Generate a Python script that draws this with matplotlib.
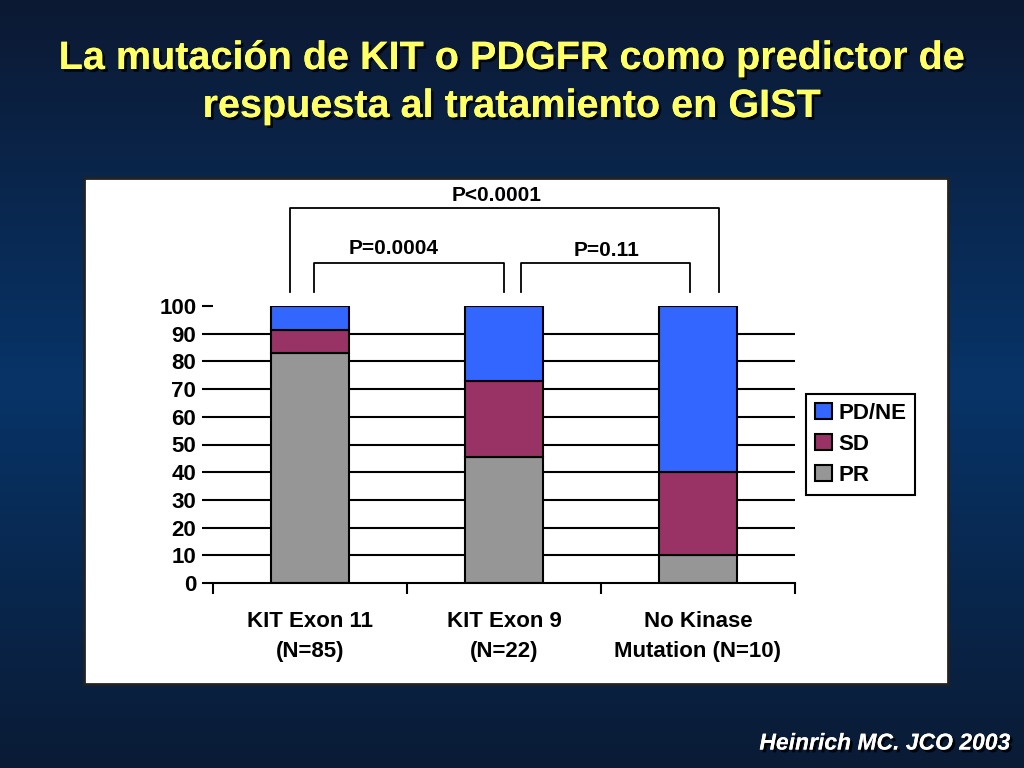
import numpy as np
import matplotlib
matplotlib.use("Agg")
import matplotlib.pyplot as plt
import matplotlib.patheffects as pe
from matplotlib.patches import Rectangle
from matplotlib.colors import LinearSegmentedColormap

# ---------------- data ----------------
categories = ["KIT Exon 11\n(N=85)", "KIT Exon 9\n(N=22)", "No Kinase\nMutation (N=10)"]
pr = [83.0, 45.5, 10.0]
sd = [8.5, 27.3, 30.0]
pd_ne = [8.5, 27.2, 60.0]
series_names = ["PD/NE", "SD", "PR"]
colors = {"PR": "#969696", "SD": "#993366", "PD/NE": "#3366FF"}
yticks = list(range(0, 101, 10))

p_labels = ["P<0.0001", "P=0.0004", "P=0.11"]

title1 = "La mutación de KIT o PDGFR como predictor de"
title2 = "respuesta al tratamiento en GIST"
citation = "Heinrich MC. JCO 2003"

narrow = ["Liberation Sans Narrow", "Liberation Sans", "DejaVu Sans"]

# ---------------- figure ----------------
fig = plt.figure(figsize=(10.24, 7.68), dpi=100)

# background gradient
bg = fig.add_axes([0, 0, 1, 1], zorder=-10)
cmap = LinearSegmentedColormap.from_list(
    "bg", [(0.0, "#0c1933"), (0.5, "#073468"), (1.0, "#0a1b35")])
grad = np.linspace(0, 1, 256).reshape(-1, 1)
bg.imshow(grad, aspect="auto", cmap=cmap, extent=[0, 1, 0, 1], origin="upper")
bg.set_axis_off()

# white chart panel
fig.patches.append(Rectangle((84 / 1024, 1 - 684 / 768), 864 / 1024, 506 / 768,
                             transform=fig.transFigure, facecolor="white",
                             edgecolor="#222222", linewidth=2, zorder=-5))

# titles
shadow = [pe.withSimplePatchShadow(offset=(2, -2), shadow_rgbFace="black", alpha=0.8), pe.Normal()]
fig.text(0.5, 1 - 58 / 768, title1, ha="center", va="center", color="#FFFF66",
         fontsize=28.5, fontweight="bold", family="Liberation Sans", path_effects=shadow)
fig.text(0.5, 1 - 106 / 768, title2, ha="center", va="center", color="#FFFF66",
         fontsize=28.5, fontweight="bold", family="Liberation Sans", path_effects=shadow)
fig.text(1010 / 1024, 1 - 743 / 768, citation, ha="right", va="center", color="white",
         fontsize=16.5, fontweight="bold", fontstyle="italic", family="Liberation Sans",
         path_effects=shadow)

# main axes
ax = fig.add_axes([213 / 1024, 1 - 583 / 768, 582 / 1024, 277 / 768])
ax.set_facecolor("none")
x = np.arange(len(categories))
w = 0.4
bottom_sd = np.array(pr)
bottom_pd = np.array(pr) + np.array(sd)
b_pr = ax.bar(x, pr, w, color=colors["PR"], edgecolor="black", linewidth=1.5, zorder=3, label="PR")
b_sd = ax.bar(x, sd, w, bottom=bottom_sd, color=colors["SD"], edgecolor="black", linewidth=1.5, zorder=3, label="SD")
b_pd = ax.bar(x, pd_ne, w, bottom=bottom_pd, color=colors["PD/NE"], edgecolor="black", linewidth=1.5, zorder=3, label="PD/NE")

for v in yticks[1:-1]:
    ax.axhline(v, color="black", linewidth=1.5, zorder=1)

ax.set_xlim(-0.5, 2.5)
ax.set_ylim(0, 100)
ax.set_yticks(yticks)
ax.set_yticklabels([str(v) for v in yticks], fontsize=16, fontweight="bold", family=narrow)
ax.set_xticks(x)
ax.set_xticklabels(categories, fontsize=16, fontweight="bold", family=narrow, linespacing=1.55)
ax.set_xticks([-0.5, 0.5, 1.5, 2.5], minor=True)
ax.tick_params(axis="x", which="major", length=0, pad=20)
ax.tick_params(axis="x", which="minor", length=8, width=1.5, direction="out")
ax.tick_params(axis="y", length=8, width=1.5, direction="out", pad=4)
for s in ["top", "right", "left"]:
    ax.spines[s].set_visible(False)
ax.spines["bottom"].set_linewidth(1.5)
ax.spines["bottom"].set_zorder(4)

# significance brackets
def bracket(x0, x1, y_low0, y_low1, y_top, label, lx, ly):
    ax.plot([x0, x0, x1, x1], [y_low0, y_top, y_top, y_low1], color="black",
            linewidth=1.3, clip_on=False)
    ax.text(lx, ly, label, ha="center", va="center", fontsize=15,
            fontweight="bold", family=narrow, clip_on=False)

bracket(-0.103, 2.108, 105.0, 105.0, 135.4, p_labels[0], 0.96, 139.8)
bracket(0.02, 1.0, 105.0, 105.0, 115.5, p_labels[1], 0.43, 120.6)
bracket(1.088, 1.959, 105.0, 105.0, 115.5, p_labels[2], 1.53, 120.0)

# legend
handles = [b_pd, b_sd, b_pr]
leg = ax.legend(handles, series_names, loc="center left", bbox_to_anchor=(1.019, 0.5),
                frameon=True, fancybox=False, edgecolor="black", framealpha=1,
                prop={"family": narrow, "weight": "bold", "size": 16},
                handlelength=0.75, handleheight=0.75, handletextpad=0.3,
                labelspacing=0.45, borderpad=0.4, borderaxespad=0)
leg.get_frame().set_linewidth(1.5)

fig.savefig("out.png", dpi=100)
